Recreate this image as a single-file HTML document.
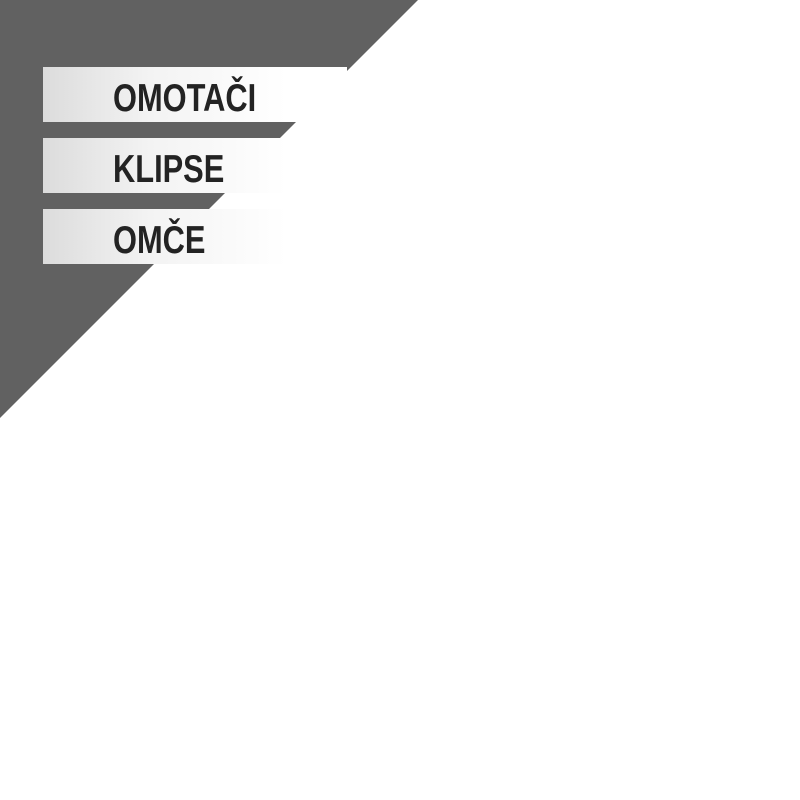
<!DOCTYPE html>
<html><head><style>
body{margin:0;width:800px;height:800px;background:#fff;position:relative;overflow:hidden;font-family:"Liberation Sans",sans-serif}
.bar{position:absolute;left:43px;width:304px;height:55px;background:linear-gradient(90deg,#dcdcdc 0%,#f3f3f3 35%,#fff 80%)}
.t{position:absolute;left:113px;font-weight:bold;font-size:39px;color:#232323;transform:scaleX(0.79);transform-origin:left center;line-height:1;white-space:nowrap}
</style></head><body>
<svg width="800" height="800" style="position:absolute;left:0;top:0"><polygon points="0,0 418,0 0,418" fill="#616161"/></svg>
<div class="bar" style="top:67px"></div>
<div class="bar" style="top:138px"></div>
<div class="bar" style="top:209px"></div>
<div class="t" style="top:79px">OMOTAČI</div>
<div class="t" style="top:150px">KLIPSE</div>
<div class="t" style="top:221px">OMČE</div>
</body></html>
